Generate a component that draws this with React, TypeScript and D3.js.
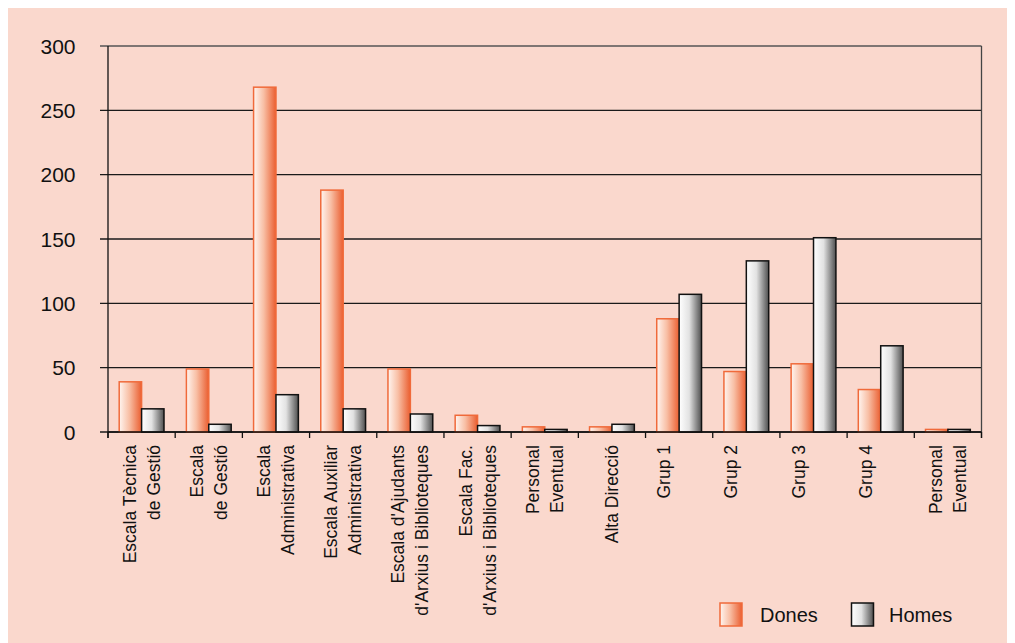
import React, { useEffect } from "react";
import * as d3 from "d3";

const categories: string[][] = [
  ["Escala Tècnica", "de Gestió"],
  ["Escala", "de Gestió"],
  ["Escala", "Administrativa"],
  ["Escala Auxiliar", "Administrativa"],
  ["Escala d'Ajudants", "d'Arxius i Biblioteques"],
  ["Escala Fac.", "d'Arxius i Biblioteques"],
  ["Personal", "Eventual"],
  ["Alta Direcció"],
  ["Grup 1", ""],
  ["Grup 2", ""],
  ["Grup 3", ""],
  ["Grup 4", ""],
  ["Personal", "Eventual"],
];
const dones: number[] = [39, 49, 268, 188, 49, 13, 4, 4, 88, 47, 53, 33, 2];
const homes: number[] = [18, 6, 29, 18, 14, 5, 2, 6, 107, 133, 151, 67, 2];
const series = ["Dones", "Homes"];
const yTicks = [0, 50, 100, 150, 200, 250, 300];

const W = 1007;
const H = 635;
const FONT = "'Liberation Sans', Arial, Helvetica, sans-serif";

export default function App() {
  useEffect(() => {
    document.body.style.overflow = "hidden";
  }, []);

  const left = 100;
  const right = 973.5;
  const top = 38;
  const bottom = 424;

  const idx = categories.map((_, i) => String(i));
  const x = d3.scaleBand<string>().domain(idx).range([left, right]).paddingInner(0).paddingOuter(0);
  const bw = x.bandwidth();
  const xs = d3.scaleBand<string>().domain(series).range([0, bw]).paddingInner(0).paddingOuter(0.5);
  const y = d3.scaleLinear().domain([0, 300]).range([bottom, top]);

  const boundaries = idx.map((k) => x(k)!).concat([right]);

  return (
    <svg width={W} height={H} style={{ display: "block", background: "#FAD8CD" }} fontFamily={FONT}>
      <defs>
        <linearGradient id="gDones" x1="0" x2="1" y1="0" y2="0">
          <stop offset="0" stopColor="#FFF5F0" />
          <stop offset="0.45" stopColor="#F8BFA5" />
          <stop offset="1" stopColor="#EA5E30" />
        </linearGradient>
        <linearGradient id="gHomes" x1="0" x2="1" y1="0" y2="0">
          <stop offset="0" stopColor="#FFFFFF" />
          <stop offset="0.45" stopColor="#E2E2E2" />
          <stop offset="1" stopColor="#4F4F4F" />
        </linearGradient>
      </defs>
      <rect x={0} y={0} width={W} height={H} fill="#FAD8CD" />

      {yTicks.map((t) => (
        <line
          key={"g" + t}
          x1={left - 8}
          x2={right}
          y1={y(t)}
          y2={y(t)}
          stroke={t === 300 ? "#555" : "#1a1a1a"}
          strokeWidth={1.3}
        />
      ))}
      {yTicks.map((t) => (
        <text
          key={"yt" + t}
          x={67.5}
          y={y(t)}
          dy="0.36em"
          textAnchor="end"
          fontSize={21}
          fill="#111"
        >
          {t}
        </text>
      ))}

      {idx.map((k, i) => (
        <g key={"b" + k}>
          <rect
            x={x(k)! + xs("Dones")!}
            y={y(dones[i])}
            width={xs.bandwidth()}
            height={bottom - y(dones[i])}
            fill="url(#gDones)"
            stroke="#F06A3A"
            strokeWidth={1.5}
          />
          <rect
            x={x(k)! + xs("Homes")!}
            y={y(homes[i])}
            width={xs.bandwidth()}
            height={bottom - y(homes[i])}
            fill="url(#gHomes)"
            stroke="#111"
            strokeWidth={1.5}
          />
        </g>
      ))}

      <line x1={left} x2={left} y1={top} y2={bottom + 6} stroke="#111" strokeWidth={1.3} />
      <line x1={right} x2={right} y1={top} y2={bottom + 6} stroke="#444" strokeWidth={1.3} />
      <line x1={left} x2={right} y1={bottom} y2={bottom} stroke="#111" strokeWidth={1.5} />
      {boundaries.map((b, i) => (
        <line key={"xt" + i} x1={b} x2={b} y1={bottom} y2={bottom + 6} stroke="#111" strokeWidth={1.3} />
      ))}

      {idx.map((k, i) => {
        const c = x(k)! + bw / 2;
        const lines = categories[i];
        const n = lines.length;
        const single = n === 2 && lines[1] === "";
        return lines.map((ln, j) => {
          const off = n === 1 ? 0 : single ? -15 : (j - (n - 1) / 2) * 24;
          const cx = c + off;
          const cy = 437;
          return (
            <text
              key={"l" + i + "_" + j}
              transform={`translate(${cx},${cy}) rotate(-90)`}
              textAnchor="end"
              dominantBaseline="central"
              fontSize={17.5}
              fill="#111"
            >
              {ln}
            </text>
          );
        });
      })}

      <rect x={712} y={595} width={22} height={23} fill="url(#gDones)" stroke="#F06A3A" strokeWidth={1.5} />
      <text x={752} y={614} fontSize={20} fill="#111">Dones</text>
      <rect x={843.5} y={595} width={22} height={23} fill="url(#gHomes)" stroke="#111" strokeWidth={1.5} />
      <text x={881} y={614} fontSize={20} fill="#111">Homes</text>
    </svg>
  );
}
